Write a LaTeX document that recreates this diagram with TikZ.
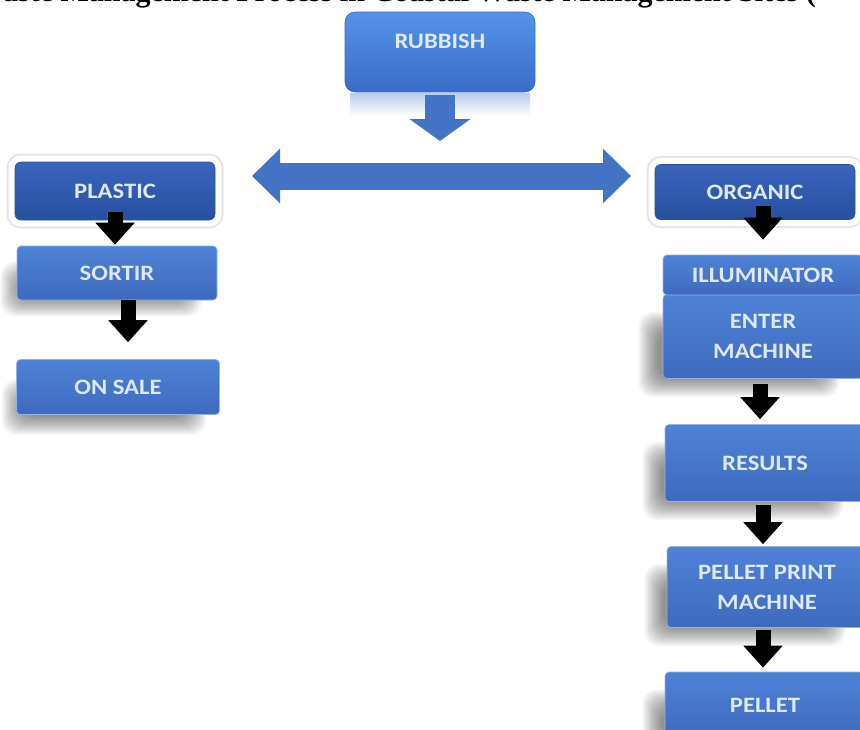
\documentclass[tikz,border=0pt]{standalone}
\usepackage{fontspec}
\setmainfont{Carlito}
\newfontfamily\boxfont[FakeStretch=1.12]{Carlito}
\newfontfamily\titlefont{Liberation Serif}
\usetikzlibrary{arrows.meta,calc,backgrounds}
\definecolor{boxblue}{RGB}{68,114,196}
\definecolor{boxtop}{RGB}{78,130,214}
\definecolor{boxbot}{RGB}{62,106,190}
\definecolor{rubtop}{RGB}{86,146,232}
\definecolor{rubbot}{RGB}{58,108,200}
\definecolor{darktop}{RGB}{58,100,190}
\definecolor{darkbot}{RGB}{40,80,160}
\definecolor{txt}{RGB}{222,232,246}
\tikzset{
 box/.style={rectangle, rounded corners=4pt, top color=boxtop, bottom color=boxbot,
   draw=boxtop!60!white, line width=0.6pt, text=txt,
   font=\boxfont\bfseries\fontsize{22}{30}\selectfont, align=center, inner sep=0pt},
 glowbox/.style={box, top color=darktop, bottom color=darkbot, draw=darkbot,
   rounded corners=6pt,
   preaction={draw=black!10, line width=17pt},
   preaction={draw=white, line width=13pt}},
 shadowlayer/.style={fill=black, opacity=0.045, rounded corners=14pt},
 blk/.style={draw=black, line width=15pt, -{Triangle[width=38pt,length=22pt]}},
 bluedown/.style={draw=boxblue, line width=30pt, -{Triangle[width=60pt,length=22pt]}},
 bluedouble/.style={draw=boxblue, line width=27pt,
   {Triangle[width=53pt,length=28pt]}-{Triangle[width=53pt,length=28pt]}}
}
\newcommand\softshadow[3]{% node, x offset, y offset (y down)
  \foreach \k in {0,...,11}{
    \fill[shadowlayer] ($(#1.south west)+(#2+\k*1.7,#3-\k*1.7)$)
      rectangle ($(#1.north east)+(#2-\k*1.7,#3+\k*1.7)$);}}
\begin{document}
\begin{tikzpicture}[x=1pt,y=-1pt]
\useasboundingbox (0,0) rectangle (860,729);
\clip (0,0) rectangle (860,729);

% cut-off caption at the top (only its lower edge shows, as in the reference)
\node[anchor=base east, inner sep=0pt, font=\titlefont\bfseries\fontsize{30}{32}\selectfont]
  (title) at (816,1.5) {Waste Management Process in Coastal Waste Management Sites (};

% nodes
\node[box, top color=rubtop, bottom color=rubbot, draw=rubbot, rounded corners=10pt,
  minimum width=190pt, minimum height=80pt, text depth=22pt] (rubbish) at (440,52) {RUBBISH};

\node[glowbox, minimum width=200pt, minimum height=58pt] (plastic) at (115,191) {PLASTIC};
\node[box, minimum width=200pt, minimum height=54pt] (sortir) at (117,273) {SORTIR};
\node[box, minimum width=203pt, minimum height=55pt] (onsale) at (118,387) {ON SALE};

\node[glowbox, minimum width=200pt, minimum height=55pt] (organic) at (755,192) {ORGANIC};
\node[box, minimum width=200pt, minimum height=84pt] (enter) at (763,336.5) {ENTER\\MACHINE};
\node[box, minimum width=200pt, minimum height=40pt] (illum) at (763,275) {ILLUMINATOR};
\node[box, minimum width=200pt, minimum height=77pt] (results) at (765,463) {RESULTS};
\node[box, minimum width=200pt, minimum height=81pt] (ppm) at (767,587) {PELLET PRINT\\MACHINE};
\node[box, minimum width=200pt, minimum height=66pt] (pellet) at (765,705) {PELLET};

\begin{scope}[on background layer]
  \fill[white] (0,0) rectangle (860,729);
  % reflection under RUBBISH
  \shade[top color=rubbot!35!white, bottom color=white] (350,93) rectangle (530,116);
  \softshadow{sortir}{-16}{16}
  \softshadow{onsale}{-14}{20}
  \softshadow{enter}{-24}{18}
  \softshadow{results}{-22}{18}
  \softshadow{ppm}{-22}{18}
  \softshadow{pellet}{-22}{18}
\end{scope}

% blue arrows
\coordinate (rbtip) at (440,141);
\draw[bluedown] ([yshift=-3pt]rubbish.south) -- (rbtip);
\coordinate (dl) at (252,176);
\coordinate (dr) at (631,176);
\draw[bluedouble] (dl) -- (dr);

% black arrows
\draw[blk] ($(plastic.south)+(0,-8)$) -- ($(plastic.south |- sortir.north)+(0,-1)$);
\draw[blk] ($(sortir.south)+(11,0)$) -- ($(sortir.south |- onsale.north)+(11,-17)$);
\draw[blk] ($(organic.south)+(8,-14)$) -- ($(organic.south |- illum.north)+(8,-15)$);
\draw[blk] ($(enter.south)+(-3,5)$) -- ($(enter.south |- results.north)+(-3,-5)$);
\draw[blk] ($(results.south)+(-2,3)$) -- ($(results.south |- ppm.north)+(-2,-2)$);
\draw[blk] ($(ppm.south)+(-4,2)$) -- ($(ppm.south |- pellet.north)+(-4,-4)$);
\end{tikzpicture}
\end{document}
